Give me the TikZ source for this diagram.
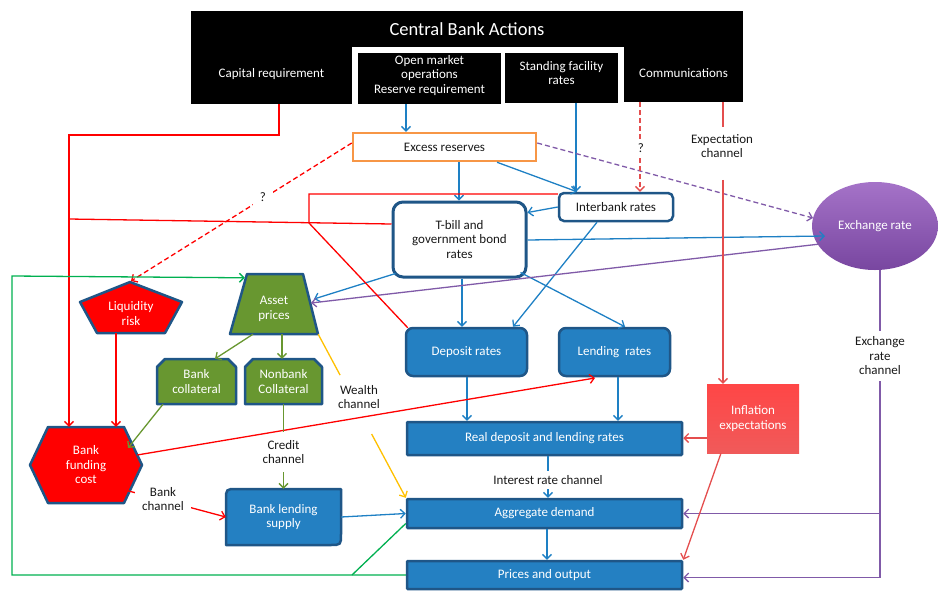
\documentclass[tikz,border=0pt]{standalone}
\usepackage{fontspec}
\setmainfont{Carlito}
\usetikzlibrary{arrows.meta,shapes.geometric,calc}
\definecolor{boxblue}{RGB}{36,128,194}
\definecolor{boxedge}{RGB}{31,86,135}
\definecolor{arrblue}{RGB}{30,128,196}
\definecolor{oliveg}{RGB}{104,151,48}
\definecolor{olivel}{RGB}{104,151,48}
\definecolor{lred}{RGB}{228,78,78}
\definecolor{purpl}{RGB}{128,90,168}
\definecolor{exchtop}{RGB}{165,115,200}
\definecolor{exchbot}{RGB}{120,70,160}
\definecolor{greenl}{RGB}{0,176,80}
\definecolor{yellowl}{RGB}{255,192,0}
\definecolor{orangeb}{RGB}{247,150,70}
\definecolor{infltop}{RGB}{255,70,70}
\definecolor{inflbot}{RGB}{240,90,90}
\definecolor{txt}{RGB}{25,25,25}
\tikzset{
  base/.style={font=\fontsize{13}{14.5}\selectfont, align=center, inner sep=0pt},
  blk/.style={base, fill=black, text=white},
  tx/.style={base, text=white},
  bbox/.style={base, fill=boxblue, draw=boxedge, line width=2.5pt, text=white, rounded corners=7pt},
  fbox/.style={base, fill=boxblue, draw=boxedge, line width=2.5pt, text=white, rounded corners=1pt},
  wbox/.style={base, fill=white, draw=boxedge, line width=2.5pt, text=txt},
  rshape/.style={fill=red, draw=boxedge, line width=2.5pt, line join=round},
  oshape/.style={fill=oliveg, draw=boxedge, line width=2.5pt, line join=round},
  bshape/.style={fill=boxblue, draw=boxedge, line width=2.5pt, line join=round},
  lbl/.style={base, text=txt, fill=white},
  arr/.style={-{Straight Barb[length=4.5pt,width=9pt]}},
  dsh/.style={dash pattern=on 5pt off 3pt},
  bl/.style={draw=arrblue, line width=1.3pt},
  pl/.style={draw=purpl, line width=1.3pt},
  rl/.style={draw=red, line width=1.3pt},
  lr/.style={draw=lred, line width=1.3pt},
  ol/.style={draw=olivel, line width=1.3pt},
  gl/.style={draw=greenl, line width=1.3pt},
  yl/.style={draw=yellowl, line width=1.3pt}
}
\begin{document}
\begin{tikzpicture}[x=1pt,y=-1pt]
\useasboundingbox (0,0) rectangle (938,590);

% ---- Central bank actions ----
\node[blk, minimum width=552pt, minimum height=36pt, font=\fontsize{18.5}{20}\selectfont] (cba) at (467,29) {Central Bank Actions};
\node[blk, minimum width=161pt, minimum height=60pt] (cap) at (271.5,74) {Capital requirement};
\node[blk, minimum width=143pt, minimum height=51pt,
  label={[tx, yshift=3pt]center:{Open market\\operations\\Reserve requirement}}] (omo) at (429.5,78.5) {};
\node[blk, minimum width=113pt, minimum height=50pt,
  label={[tx, yshift=5pt]center:{Standing facility\\rates}}] (sfr) at (561.5,78) {};
\node[blk, minimum width=119pt, minimum height=58pt] (comm) at (683.5,73) {Communications};

% ---- boxes ----
\node[base, draw=orangeb, line width=2.5pt, fill=white, text=txt, minimum width=183pt, minimum height=28pt] (exr) at (444.5,147) {Excess reserves};
\node[wbox, line width=3pt, rounded corners=10pt, minimum width=133pt, minimum height=75pt] (tbill) at (459.5,239.5) {T-bill and\\government bond\\rates};
\node[wbox, rounded corners=5pt, minimum width=114pt, minimum height=28pt] (ibr) at (616,207) {Interbank rates};
\node[base, ellipse, minimum width=126pt, minimum height=88pt, top color=exchtop, bottom color=exchbot, text=white] (exch) at (875,226) {Exchange rate};
\node[bbox, minimum width=121pt, minimum height=48pt] (dep) at (466.5,352) {Deposit rates};
\node[bbox, minimum width=111pt, minimum height=48pt] (lend) at (614.5,352) {Lending\ \ rates};
\node[fbox, minimum width=275pt, minimum height=33pt] (real) at (544.5,438.5) {Real deposit and lending rates};
\node[fbox, minimum width=275pt, minimum height=29pt] (agg) at (544.5,513.5) {Aggregate demand};
\node[fbox, minimum width=275pt, minimum height=28pt] (prices) at (544.5,575) {Prices and output};
\node[base, minimum width=92pt, minimum height=69pt, top color=infltop, bottom color=inflbot, text=white] (infl) at (753,418.5) {Inflation\\expectations};

% ---- drawn shapes ----
\draw[rshape] (130,282) -- (182,302) -- (165,333) -- (97,333) -- (80,302) -- cycle;
\node[tx] (liq) at (131,313.5) {Liquidity\\risk};
\coordinate (liqN) at (131,281);
\coordinate (liqS) at (116,333);

\draw[oshape] (247,274) -- (303,274) -- (318,334) -- (230,334) -- cycle;
\node[base, minimum width=88pt, minimum height=60pt] (asset) at (274,304) {};
\node[tx] (assettxt) at (274,309) {Asset\\prices};

\draw[oshape] (157,404) -- (157,367) -- (165,359) -- (228,359) -- (236,367) -- (236,404) -- cycle;
\node[tx, minimum width=79pt, minimum height=45pt] (bcol) at (196.5,381.5) {Bank\\collateral};
\draw[oshape] (245,404) -- (245,367) -- (253,359) -- (314,359) -- (322,367) -- (322,404) -- cycle;
\node[tx, minimum width=77pt, minimum height=45pt] (ncol) at (283.5,381.5) {Nonbank\\Collateral};

\draw[rshape] (30,465) -- (48,427) -- (124,427) -- (142,465) -- (124,503) -- (48,503) -- cycle;
\node[tx, minimum width=112pt, minimum height=76pt] (bfc) at (86,465) {Bank\\funding\\cost};

\draw[bshape] (226,545) -- (226,500) .. controls (226,489) .. (237,489) -- (341,489) -- (341,534) .. controls (341,545) .. (330,545) -- cycle;
\node[tx, minimum width=115pt, minimum height=56pt] (bls) at (283.5,517) {Bank lending\\supply};

% ---- blue connectors ----
\draw[bl,arr] ([xshift=-23.5pt]omo.south) -- ([xshift=-23.5pt]omo.south |- exr.north);
\draw[bl,arr] ([xshift=14.5pt]sfr.south) -- ([xshift=14.5pt]sfr.south |- ibr.north);
\draw[bl,arr] ([xshift=14.5pt]exr.south) -- ([xshift=14.5pt]exr.south |- tbill.north);
\draw[bl,arr] ([xshift=52.5pt]exr.south) -- ([xshift=-39pt]ibr.north);
\draw[bl,arr] (ibr.west) -- ([yshift=27pt]tbill.east);
\draw[bl,arr] ([xshift=-19pt]ibr.south) -- ([xshift=46.5pt]dep.north);
\draw[bl,arr] ([xshift=2.5pt]tbill.south) -- ([xshift=2.5pt]tbill.south |- dep.north);
\draw[bl,arr] ([xshift=-7pt,yshift=6pt]tbill.south east) -- ([xshift=10.5pt]lend.north);
\draw[bl,arr] ([yshift=-0.5pt]tbill.east) -- ([xshift=-50pt,yshift=-10pt]exch.center);
\draw[bl,arr] ([xshift=4pt,yshift=5pt]tbill.south west) -- ([xshift=40pt,yshift=5pt]asset.center);
\draw[bl,arr] ([xshift=0.5pt]dep.south) -- ([xshift=0.5pt]dep.south |- real.north);
\draw[bl,arr] ([xshift=3.5pt]lend.south) -- ([xshift=3.5pt]lend.south |- real.north);
\draw[bl,arr] ([xshift=3.5pt]real.south) -- ([xshift=3.5pt]real.south |- agg.north);
\draw[bl,arr] ([xshift=2.5pt]agg.south) -- ([xshift=2.5pt]agg.south |- prices.north);
\draw[bl,arr] (bls.east) -- (agg.west);
\node[lbl, inner sep=4pt] (irc) at (548,480) {Interest rate channel};

% ---- purple connectors ----
\draw[pl,arr,dsh] ([yshift=4pt]exr.east) -- ([xshift=-62pt,yshift=8pt]exch.center);
\draw[pl,arr] ([xshift=-55pt,yshift=-18pt]exch.center) -- ([xshift=37pt,yshift=1pt]asset.center);
\draw[pl,arr] ([xshift=5pt]exch.south) |- ([yshift=-2.5pt]prices.east);
\draw[pl,arr] ([xshift=5pt]exch.south |- agg.east) -- (agg.east);
\node[lbl, inner sep=6pt] (erc) at (880,356) {Exchange\\rate\\channel};

% ---- bright red connectors ----
\coordinate (capL) at (69,135);
\draw[rl,arr] ([xshift=7.5pt]cap.south) |- (capL) -- (capL |- bfc.north);
\coordinate (rA) at (69,219);
\draw[rl] (rA) -- ([yshift=15.5pt]tbill.west);
\coordinate (rB) at (309,194);
\coordinate (rC) at (309,223);
\draw[rl] ([yshift=13pt]ibr.west) -- (rB) -- (rC) -- ([xshift=3pt,yshift=-1pt]dep.north west);
\draw[rl,arr] ([xshift=-5pt,yshift=10pt]bfc.east) -- ([xshift=-19.5pt,yshift=-26pt]lend.center);
\draw[rl,arr] ([xshift=39pt,yshift=-25pt]bfc.center) -- (bls.west);
\node[lbl, inner xsep=7pt, inner ysep=2pt] (bch) at (163,499) {Bank\\channel};
\draw[rl,arr] (liqS) -- (liqS |- bfc.north);
\draw[rl,arr,dsh] ([yshift=4pt]exr.west) -- (liqN);
\node[lbl, inner sep=7pt] (q2) at (263,197) {?};

% ---- light red connectors ----
\draw[lr,arr,dsh] ([xshift=-43.5pt]comm.south) -- ([xshift=-43.5pt]comm.south |- ibr.north);
\node[lbl, inner sep=5pt] (q1) at (641,148) {?};
\node[base, text=txt] (expc) at (722,146) {Expectation\\channel};
\draw[lr] ([xshift=39.5pt]comm.south) -- ($(expc.north)+(1,-7)$);
\draw[lr,arr] ($(expc.south)+(1,22)$) -- ([xshift=39.5pt]comm.south |- infl.north);
\draw[lr,arr] ([yshift=-19.5pt]infl.west) -- ([yshift=-19.5pt]infl.west -| real.east);
\draw[lr,arr] ([xshift=-32pt]infl.south) -- (prices.north east);

% ---- olive connectors ----
\draw[ol,arr] ([xshift=-21pt]asset.south) -- ([xshift=18.5pt]bcol.north);
\draw[ol,arr] ([xshift=8pt]asset.south) -- ([xshift=8pt]asset.south |- ncol.north);
\draw[ol,arr] ([xshift=-33.5pt]bcol.south) -- ([xshift=42pt,yshift=17pt]bfc.center);
\node[base, text=txt] (crc) at (283.5,452) {Credit\\channel};
\draw[ol] (ncol.south) -- ($(crc.north)+(0,-8)$);
\draw[ol,arr] ($(crc.south)+(0,8)$) -- (bls.north);

% ---- yellow (wealth channel) ----
\draw[yl] (asset.south east) -- ($(asset.south east)!0.25!(agg.north west)$);
\draw[yl,arr] ($(asset.south east)!0.61!(agg.north west)$) -- (agg.north west);
\node[base, text=txt] (wc) at (359,397) {Wealth\\channel};

% ---- green loop ----
\coordinate (gBL) at (12,575);
\coordinate (gTL) at (12,276);
\coordinate (gJ) at (352,575);
\draw[gl] ([yshift=-10pt]agg.west) -- (gJ);
\draw[gl,arr] (prices.west) -- (gBL) -- (gTL) -- ([xshift=15pt,yshift=-4pt]asset.north west);
\end{tikzpicture}
\end{document}
